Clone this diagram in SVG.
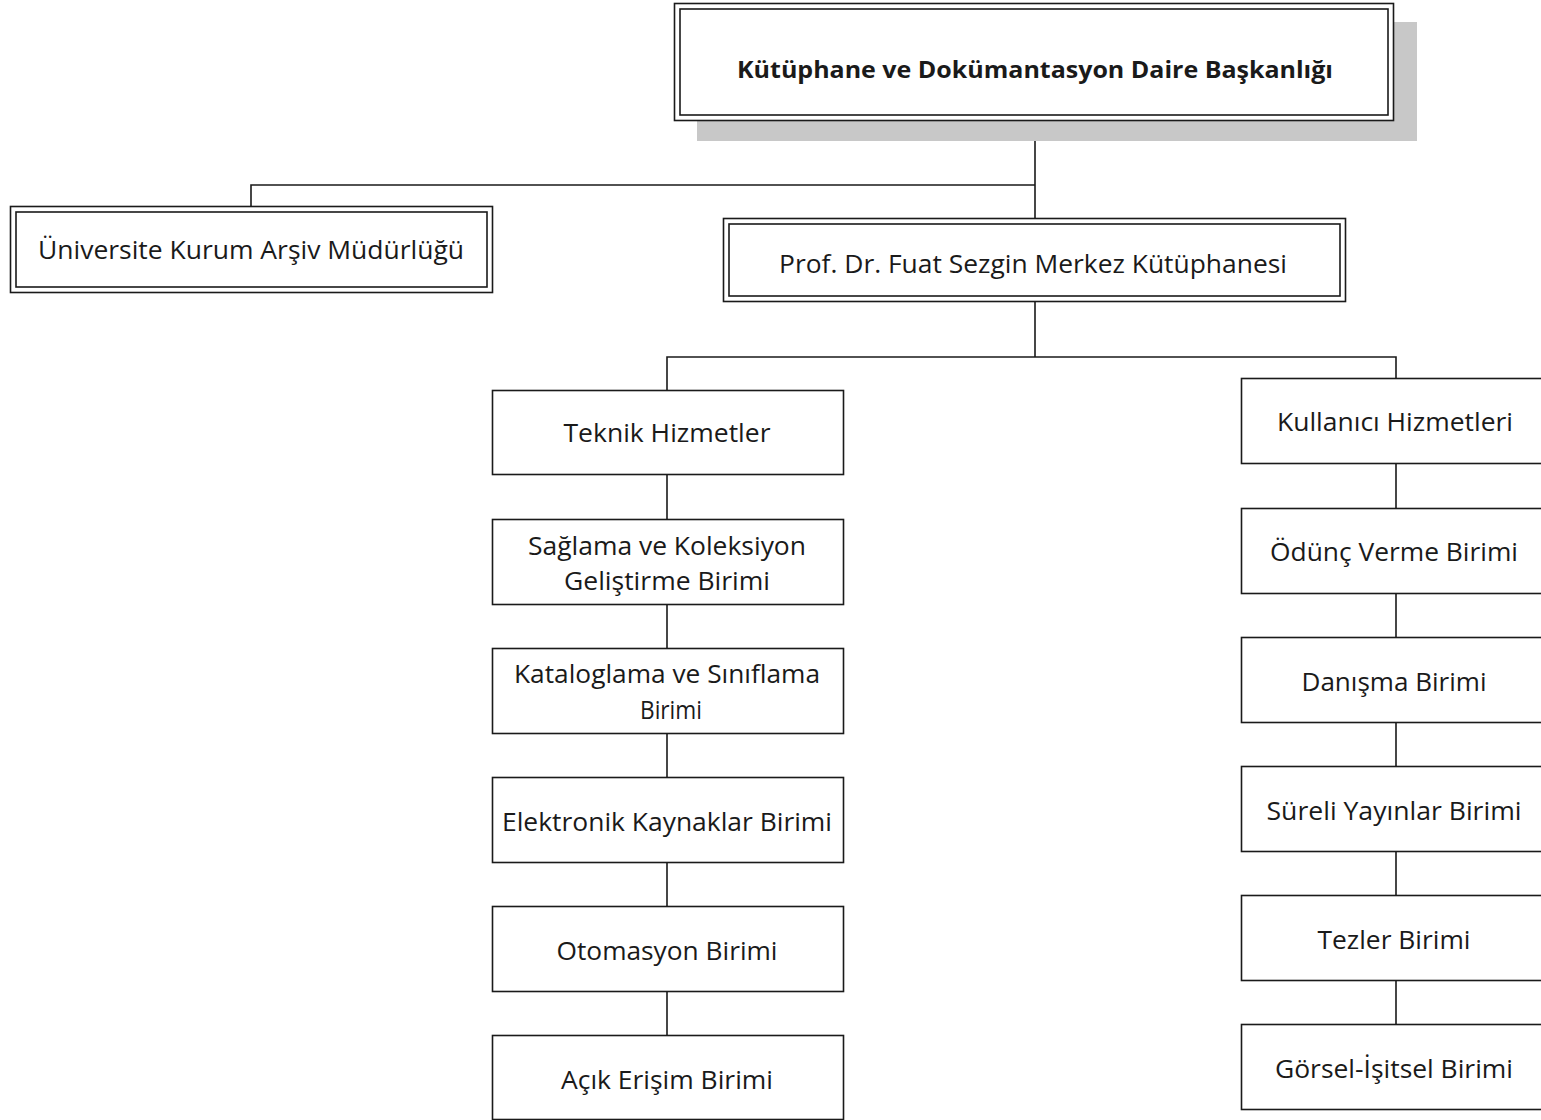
<svg xmlns="http://www.w3.org/2000/svg" width="1541" height="1120" viewBox="0 0 1541 1120">
<style>
.box{fill:#fff;stroke:#1a1a1a;stroke-width:1.6}
.in{fill:none;stroke:#1a1a1a;stroke-width:1.6}
.ln{fill:none;stroke:#1a1a1a;stroke-width:1.6}
text{font-family:"Open Sans","Noto Sans","DejaVu Sans",sans-serif;font-size:25px;fill:#1a1a1a;text-anchor:middle}
.b{font-weight:bold;font-size:24px}
</style>
<rect x="0" y="0" width="1541" height="1120" fill="#fff"/>
<g id="connectors">
<path class="ln" d="M1035 120 V218 M251 206 V185 H1035 M1035 302 V357 M667 390 V357 H1396 V378"/>
<path class="ln" d="M667 474 V519 M667 604 V648 M667 733 V777 M667 862 V906 M667 991 V1035"/>
<path class="ln" d="M1396 463 V508 M1396 593 V637 M1396 722 V766 M1396 851 V895 M1396 980 V1024"/>
</g>
<g id="n-daire">
<rect x="697" y="22" width="720" height="119" fill="#c8c8c8"/>
<rect class="box" x="674.5" y="3.5" width="719" height="117"/>
<rect class="in" x="680" y="9" width="708" height="106"/>
<text class="b" x="1035" y="78" textLength="596" lengthAdjust="spacingAndGlyphs">Kütüphane ve Dokümantasyon Daire Başkanlığı</text>
</g>
<g id="n-arsiv">
<rect class="box" x="10.5" y="206.5" width="482" height="86"/>
<rect class="in" x="16" y="212" width="471" height="75"/>
<text x="251" y="259" textLength="426" lengthAdjust="spacingAndGlyphs">Üniversite Kurum Arşiv Müdürlüğü</text>
</g>
<g id="n-merkez">
<rect class="box" x="723.5" y="218.5" width="622" height="83"/>
<rect class="in" x="729" y="224" width="611" height="72"/>
<text x="1033" y="273" textLength="508" lengthAdjust="spacingAndGlyphs">Prof. Dr. Fuat Sezgin Merkez Kütüphanesi</text>
</g>
<g id="n-teknik">
<rect class="box" x="492.5" y="390.5" width="351" height="84"/>
<text x="667" y="442" textLength="207" lengthAdjust="spacingAndGlyphs">Teknik Hizmetler</text>
</g>
<g id="n-saglama">
<rect class="box" x="492.5" y="519.5" width="351" height="85"/>
<text x="667" y="555" textLength="278" lengthAdjust="spacingAndGlyphs">Sağlama ve Koleksiyon</text>
<text x="667" y="590" textLength="206" lengthAdjust="spacingAndGlyphs">Geliştirme Birimi</text>
</g>
<g id="n-katalog">
<rect class="box" x="492.5" y="648.5" width="351" height="85"/>
<text x="667" y="683" textLength="306" lengthAdjust="spacingAndGlyphs">Kataloglama ve Sınıflama</text>
<text x="671" y="719" textLength="62" lengthAdjust="spacingAndGlyphs">Birimi</text>
</g>
<g id="n-elektronik">
<rect class="box" x="492.5" y="777.5" width="351" height="85"/>
<text x="667" y="831" textLength="330" lengthAdjust="spacingAndGlyphs">Elektronik Kaynaklar Birimi</text>
</g>
<g id="n-otomasyon">
<rect class="box" x="492.5" y="906.5" width="351" height="85"/>
<text x="667" y="960" textLength="221" lengthAdjust="spacingAndGlyphs">Otomasyon Birimi</text>
</g>
<g id="n-acik">
<rect class="box" x="492.5" y="1035.5" width="351" height="84"/>
<text x="667" y="1089" textLength="212" lengthAdjust="spacingAndGlyphs">Açık Erişim Birimi</text>
</g>
<g id="n-kullanici">
<rect class="box" x="1241.5" y="378.5" width="310" height="85"/>
<text x="1395" y="431" textLength="236" lengthAdjust="spacingAndGlyphs">Kullanıcı Hizmetleri</text>
</g>
<g id="n-odunc">
<rect class="box" x="1241.5" y="508.5" width="310" height="85"/>
<text x="1394" y="561" textLength="248" lengthAdjust="spacingAndGlyphs">Ödünç Verme Birimi</text>
</g>
<g id="n-danisma">
<rect class="box" x="1241.5" y="637.5" width="310" height="85"/>
<text x="1394" y="691" textLength="185" lengthAdjust="spacingAndGlyphs">Danışma Birimi</text>
</g>
<g id="n-sureli">
<rect class="box" x="1241.5" y="766.5" width="310" height="85"/>
<text x="1394" y="820" textLength="255" lengthAdjust="spacingAndGlyphs">Süreli Yayınlar Birimi</text>
</g>
<g id="n-tezler">
<rect class="box" x="1241.5" y="895.5" width="310" height="85"/>
<text x="1394" y="949" textLength="153" lengthAdjust="spacingAndGlyphs">Tezler Birimi</text>
</g>
<g id="n-gorsel">
<rect class="box" x="1241.5" y="1024.5" width="310" height="85"/>
<text x="1394" y="1078" textLength="238" lengthAdjust="spacingAndGlyphs">Görsel-İşitsel Birimi</text>
</g>
</svg>
